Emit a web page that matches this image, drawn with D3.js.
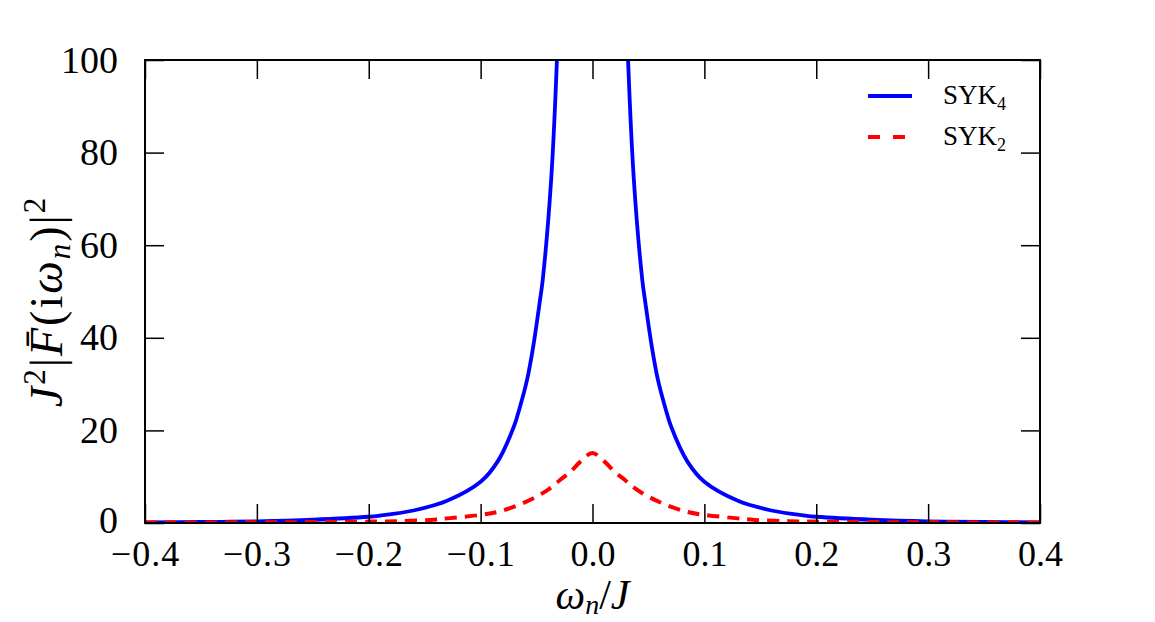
<!DOCTYPE html>
<html>
<head>
<meta charset="utf-8">
<script src="https://cdn.jsdelivr.net/npm/d3@7"></script>
<style>
  body { margin: 0; background: #fff; }
  svg { font-family: "Liberation Serif", "DejaVu Serif", serif; }
</style>
</head>
<body>
<div id="chart"></div>
<script>
// values (symmetric in omega)
const blueOmega = [0.027, 0.0318, 0.037, 0.0445, 0.047, 0.053, 0.0585, 0.0648, 0.07, 0.085, 0.1, 0.13, 0.16, 0.19, 0.2, 0.25, 0.3, 0.35, 0.4];
const blueVals  = [140, 100, 74, 52.5, 48, 38.1, 30.9, 25.1, 21, 13.2, 8.9, 4.8, 2.7, 1.6, 1.35, 0.7, 0.35, 0.22, 0.15];
const redOmega = [0, 0.011, 0.02, 0.029, 0.038, 0.05, 0.065, 0.084, 0.1, 0.13, 0.145, 0.175, 0.2, 0.25, 0.3, 0.4];
const redVals  = [15.1, 13.2, 11.0, 9.3, 7.5, 5.7, 4.0, 2.45, 1.75, 1.0, 0.65, 0.4, 0.3, 0.2, 0.15, 0.1];
const xTicks = [-0.4, -0.3, -0.2, -0.1, 0.0, 0.1, 0.2, 0.3, 0.4];
const yTicks = [0, 20, 40, 60, 80, 100];
const seriesNames = ['SYK', 'SYK'];
const seriesSubs = ['4', '2'];

const W = 1155, H = 622;
const m = {left: 145, right: 115, top: 60, bottom: 99};
const iw = W - m.left - m.right, ih = H - m.top - m.bottom;

// mirror the half curves
function mirror(om, v) {
  const pts = [];
  for (let i = om.length - 1; i >= 0; i--) {
    if (om[i] === 0) continue;
    pts.push([-om[i], v[i]]);
  }
  for (let i = 0; i < om.length; i++) pts.push([om[i], v[i]]);
  return pts;
}
const bluePts = mirror(blueOmega, blueVals);
const redPts = mirror(redOmega, redVals);

const x = d3.scaleLinear().domain([-0.4, 0.4]).range([0, iw]);
const y = d3.scaleLinear().domain([0, 100]).range([ih, 0]);

const svg = d3.select('#chart').append('svg')
  .attr('width', W).attr('height', H);
const g = svg.append('g').attr('transform', 'translate(' + m.left + ',' + m.top + ')');

g.append('clipPath').attr('id', 'clip')
  .append('rect').attr('width', iw).attr('height', ih);

const line = d3.line()
  .x(d => x(d[0])).y(d => y(d[1]))
  .curve(d3.curveCatmullRom.alpha(0.5));

// blue split at center so the two branches are separate
const blueLeft = bluePts.filter(d => d[0] < 0);
const blueRight = bluePts.filter(d => d[0] > 0);
const plot = g.append('g').attr('clip-path', 'url(#clip)');
[blueLeft, blueRight].forEach(p => {
  plot.append('path').attr('d', line(p))
    .attr('fill', 'none').attr('stroke', '#0000ff').attr('stroke-width', 3.8);
});
plot.append('path').attr('d', line(redPts))
  .attr('fill', 'none').attr('stroke', '#ff0000').attr('stroke-width', 4)
  .attr('stroke-dasharray', '12,8');

// axes with inward ticks on all sides
const tl = 19;
const xAx = d3.axisBottom(x).tickValues(xTicks).tickSize(-tl).tickPadding(tl - 2)
  .tickFormat(d => d < 0 ? '\u2212' + Math.abs(d).toFixed(1) : d.toFixed(1));
const yAx = d3.axisLeft(y).tickValues(yTicks).tickSize(-tl).tickPadding(tl + 8);
const xTop = d3.axisTop(x).tickValues(xTicks).tickSize(-tl).tickFormat('');
const yRight = d3.axisRight(y).tickValues(yTicks).tickSize(-tl).tickFormat('');

const gx = g.append('g').attr('transform', 'translate(0,' + ih + ')').call(xAx);
const gy = g.append('g').call(yAx);
const gxt = g.append('g').call(xTop);
const gyr = g.append('g').attr('transform', 'translate(' + iw + ',0)').call(yRight);
[gx, gy, gxt, gyr].forEach(a => {
  a.select('.domain').remove();
  a.selectAll('.tick line').attr('stroke', '#000').attr('stroke-width', 1.5);
});
gx.selectAll('.tick text').attr('font-size', 36).attr('fill', '#000')
  .attr('font-family', '"Liberation Serif", serif')
  .attr('dy', '0.71em')
  .attr('letter-spacing', d => d < 0 ? 1 : 0);
gy.selectAll('.tick text').attr('font-size', 38).attr('fill', '#000')
  .attr('font-family', '"Liberation Serif", serif')
  .attr('dy', d => d === 0 ? '0.25em' : '0.32em');

g.append('rect').attr('width', iw).attr('height', ih)
  .attr('fill', 'none').attr('stroke', '#000').attr('stroke-width', 2);

// axis titles
const xt = svg.append('text')
  .attr('x', m.left + iw / 2).attr('y', 609)
  .attr('text-anchor', 'middle').attr('font-size', 42).attr('fill', '#000');
xt.append('tspan').attr('font-style', 'italic').text('\u03c9');
xt.append('tspan').attr('font-style', 'italic').attr('font-size', 28).attr('dy', 5).text('n');
xt.append('tspan').attr('dy', -5).text('/');
xt.append('tspan').attr('font-style', 'italic').text('J');

const yt = svg.append('text')
  .attr('transform', 'translate(62,' + (m.top + ih / 2 + 10) + ') rotate(-90)')
  .attr('text-anchor', 'middle').attr('font-size', 46).attr('fill', '#000')
  .attr('letter-spacing', 2);
yt.append('tspan').attr('font-style', 'italic').text('J');
yt.append('tspan').attr('font-size', 31).attr('dy', -17).text('2');
yt.append('tspan').attr('dy', 17).text('|');
yt.append('tspan').attr('font-style', 'italic').text('F\u0304');
yt.append('tspan').text('(i');
yt.append('tspan').attr('font-style', 'italic').text('\u03c9');
yt.append('tspan').attr('font-style', 'italic').attr('font-size', 31).attr('dy', 8).text('n');
yt.append('tspan').attr('dy', -8).text(')|');
yt.append('tspan').attr('font-size', 31).attr('dy', -17).text('2');

// legend
const lg = svg.append('g');
const legY = [96, 137];
const legStyle = [
  {c: '#0000ff', w: 3.8, dash: null},
  {c: '#ff0000', w: 4, dash: '12,13'}
];
seriesNames.forEach((nm, i) => {
  lg.append('line').attr('x1', 868).attr('x2', 912).attr('y1', legY[i]).attr('y2', legY[i])
    .attr('stroke', legStyle[i].c).attr('stroke-width', legStyle[i].w)
    .attr('stroke-dasharray', legStyle[i].dash);
  const t = lg.append('text').attr('x', 943).attr('y', legY[i] + 8)
    .attr('font-size', 27).attr('fill', '#000');
  t.append('tspan').text(nm);
  t.append('tspan').attr('font-size', 18).attr('dy', 6).text(seriesSubs[i]);
});
</script>
</body>
</html>
